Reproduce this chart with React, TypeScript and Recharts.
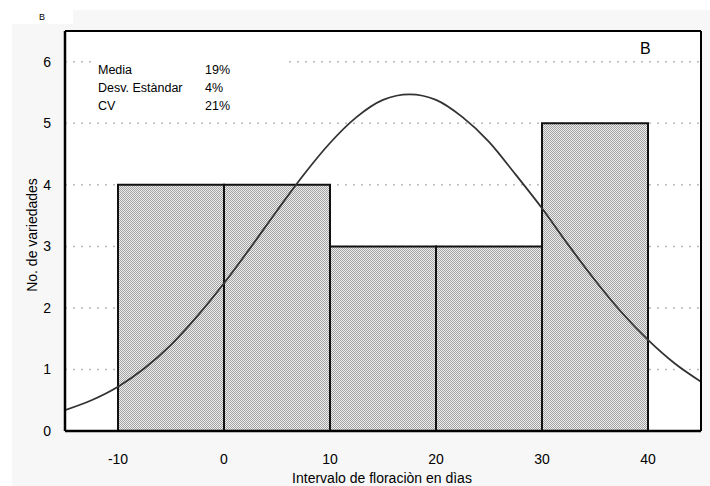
import React from "react";
import {
  ComposedChart,
  Line,
  XAxis,
  YAxis,
  CartesianGrid,
  ReferenceArea,
} from "recharts";

// histogram bins (days) and counts
const binStart = [-10, 0, 10, 20, 30];
const binEnd = [0, 10, 20, 30, 40];
const binCount = [4, 4, 3, 3, 5];

// fitted normal curve
const curveX = [-15, -12.5, -10, -7.5, -5, -2.5, 0, 2.5, 5, 7.5, 10, 12.5, 15, 17.5, 20, 22.5, 25, 27.5, 30, 32.5, 35, 37.5, 40, 42.5, 45];
const curveY = [0.34, 0.5, 0.72, 1.02, 1.4, 1.87, 2.4, 2.98, 3.58, 4.16, 4.68, 5.1, 5.38, 5.47, 5.38, 5.1, 4.7, 4.17, 3.62, 3.02, 2.45, 1.93, 1.48, 1.1, 0.8];

const xTicks = [-10, 0, 10, 20, 30, 40];
const yTicks = [0, 1, 2, 3, 4, 5, 6];

const statLabels = ["Media", "Desv. Estàndar", "CV"];
const statValues = ["19%", "4%", "21%"];

const FONT = "'Liberation Sans', Arial, sans-serif";

export default function App() {
  const data = curveX.map((x, i) => ({ x, y: curveY[i] }));

  return (
    <div
      style={{
        position: "absolute",
        left: 0,
        top: 0,
        width: 710,
        height: 486,
        background: "#fff",
        fontFamily: FONT,
        overflow: "hidden",
      }}
    >
      <div style={{ position: "absolute", left: 12, top: 24, width: 698, height: 462, background: "#f7f7f7" }} />
      <div style={{ position: "absolute", left: 73, top: 10, width: 637, height: 20, background: "#f7f7f7" }} />
      <div style={{ position: "absolute", left: 65, top: 32, width: 635, height: 399, background: "#fff" }} />

      <div style={{ position: "absolute", left: 0, top: 0 }}>
        <ComposedChart
          width={710}
          height={486}
          data={data}
          margin={{ top: 31, right: 9, left: 25, bottom: 25 }}
        >
          <defs>
            <pattern id="hatch" width="2" height="2" patternUnits="userSpaceOnUse">
              <rect x="0" y="0" width="2" height="2" fill="#eeeeee" />
              <rect x="0" y="0" width="1" height="1" fill="#a2a2a2" />
              <rect x="1" y="1" width="1" height="1" fill="#a2a2a2" />
            </pattern>
          </defs>
          <CartesianGrid
            horizontal
            vertical={false}
            stroke="#bbb"
            strokeDasharray="2 6"
            strokeWidth={1.5}
          />
          <XAxis
            dataKey="x"
            type="number"
            domain={[-15, 45]}
            ticks={xTicks}
            allowDataOverflow
            height={30}
            tickLine={false}
            tickMargin={17}
            axisLine={{ stroke: "#000", strokeWidth: 2.5 }}
            tick={{ fill: "#000", fontSize: 14, fontFamily: FONT }}
          />
          <XAxis
            xAxisId="top"
            orientation="top"
            dataKey="x"
            type="number"
            domain={[-15, 45]}
            ticks={xTicks}
            height={1}
            mirror
            tick={false}
            tickSize={4}
            tickLine={{ stroke: "#000", strokeWidth: 1.5 }}
            axisLine={{ stroke: "#000", strokeWidth: 2 }}
          />
          <YAxis
            type="number"
            domain={[0, 6.5]}
            ticks={yTicks}
            allowDataOverflow
            width={40}
            tickLine={false}
            tickMargin={8}
            axisLine={{ stroke: "#000", strokeWidth: 2.5 }}
            tick={{ fill: "#000", fontSize: 14, fontFamily: FONT }}
          />
          <YAxis
            yAxisId="right"
            orientation="right"
            type="number"
            domain={[0, 6.5]}
            ticks={yTicks}
            width={1}
            mirror
            tick={false}
            tickSize={4}
            tickLine={{ stroke: "#000", strokeWidth: 1.5 }}
            axisLine={{ stroke: "#000", strokeWidth: 2 }}
          />
          {binStart.map((s, i) => (
            <ReferenceArea
              key={`bin-${i}`}
              x1={s}
              x2={binEnd[i]}
              y1={0}
              y2={binCount[i]}
              fill="url(#hatch)"
              fillOpacity={1}
              stroke="#111"
              strokeWidth={2}
            />
          ))}
          <Line
            dataKey="y"
            type="monotone"
            stroke="#333"
            strokeWidth={1.8}
            dot={false}
            activeDot={false}
            isAnimationActive={false}
          />
        </ComposedChart>
      </div>

      {/* stats box */}
      <div style={{ position: "absolute", left: 94, top: 55, width: 192, height: 60, background: "#fff" }} />
      {statLabels.map((l, i) => (
        <React.Fragment key={l}>
          <div style={{ position: "absolute", left: 98, top: 63 + i * 18, fontSize: 12.5, color: "#000", whiteSpace: "nowrap" }}>{l}</div>
          <div style={{ position: "absolute", left: 205, top: 63 + i * 18, fontSize: 12.5, color: "#000" }}>{statValues[i]}</div>
        </React.Fragment>
      ))}
      <div style={{ position: "absolute", left: 640, top: 40, fontSize: 16, color: "#000" }}>B</div>
      <div style={{ position: "absolute", left: 39, top: 12, fontSize: 9, color: "#000" }}>B</div>

      <div
        style={{
          position: "absolute",
          left: 32,
          top: 235,
          transform: "translate(-50%, -50%) rotate(-90deg)",
          fontSize: 14,
          color: "#000",
          whiteSpace: "nowrap",
        }}
      >
        No. de variedades
      </div>
      <div
        style={{
          position: "absolute",
          left: 382,
          top: 478,
          transform: "translate(-50%, -50%)",
          fontSize: 14,
          color: "#000",
          whiteSpace: "nowrap",
        }}
      >
        Intervalo de floraciòn en dìas
      </div>
    </div>
  );
}
